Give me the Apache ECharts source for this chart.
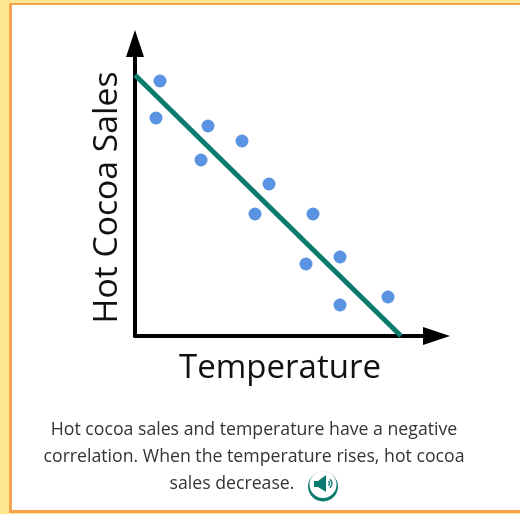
<!DOCTYPE html>
<html><head><meta charset="utf-8">
<style>
html,body{margin:0;padding:0;width:520px;height:514px;overflow:hidden;background:#fee78f}
#frame{position:absolute;left:9px;top:3px;width:511px;height:505px;border:3px solid #f5a34f;border-top-width:2px;border-right:none;background:#fff}
#c{position:absolute;left:0;top:0;width:520px;height:514px}
</style>
<script src="https://cdn.jsdelivr.net/npm/echarts@6/dist/echarts.min.js"></script>
</head><body>
<div id="frame"></div>
<div id="c"></div>
<script>
const temperature = [25,21,73,66,107,134,120,178,171,205,205,253];
const sales = [255,218,210,176,195,152,122,122,72,79,31,39];
const trendX = [0,266];
const trendY = [261,0];
const xName = 'Temperature';
const yName = 'Hot Cocoa Sales';
const captionLines = [
  'Hot cocoa sales and temperature have a negative',
  'correlation. When the temperature rises, hot cocoa',
  'sales decrease.'
];
const font = '"Open Sans"';
const teal = '#0b7b70';
const chart = echarts.init(document.getElementById('c'), null, {renderer:'canvas'});
const axisCommon = {
  type:'value', min:0, splitLine:{show:false}, axisTick:{show:false}, axisLabel:{show:false},
  axisLine:{show:true, onZero:false, lineStyle:{color:'#000',width:4}, symbol:['none','triangle'], symbolSize:[18,27], symbolOffset:[0,11.5]},
  nameLocation:'middle'
};
chart.setOption({
  animation:false,
  backgroundColor:'transparent',
  grid:{left:135,right:95,top:55,bottom:178},
  xAxis:Object.assign({},axisCommon,{max:290,name:xName,nameGap:16,nameTextStyle:{fontFamily:font,color:'#111',fontSize:33}}),
  yAxis:Object.assign({},axisCommon,{max:281,name:yName,nameGap:11,nameRotate:90,nameTextStyle:{fontFamily:font,color:'#111',fontSize:33.7,padding:[0,4,0,0]}}),
  series:[
    {type:'line',data:trendX.map((x,i)=>[x,trendY[i]]),symbol:'none',lineStyle:{color:teal,width:5},silent:true,z:2},
    {type:'scatter',data:temperature.map((x,i)=>[x,sales[i]]),symbolSize:13,itemStyle:{color:'#5b93e3',opacity:1},z:3}
  ],
  graphic:[
    ...captionLines.map((t,i)=>({type:'text',x:i===2?232:254,y:430+27*i,style:{text:t,font:'17.7px '+font,fill:'#333',textAlign:'center',textVerticalAlign:'middle'}})),
    {type:'circle',shape:{cx:323,cy:486.5,r:15},style:{fill:teal}},
    {type:'circle',shape:{cx:323,cy:484.5,r:13.5},style:{fill:'#fff'}},
    {type:'polygon',shape:{points:[[314,481],[318,481],[326,475],[326,492],[318,487],[314,487]]},style:{fill:teal}},
    {type:'arc',shape:{cx:327,cy:483.5,r:2.5,startAngle:-1,endAngle:1},style:{stroke:teal,lineWidth:1.4,fill:'none'}},
    {type:'arc',shape:{cx:327,cy:483.5,r:5,startAngle:-1,endAngle:1},style:{stroke:teal,lineWidth:1.4,fill:'none'}}
  ]
});
</script>
</body></html>
